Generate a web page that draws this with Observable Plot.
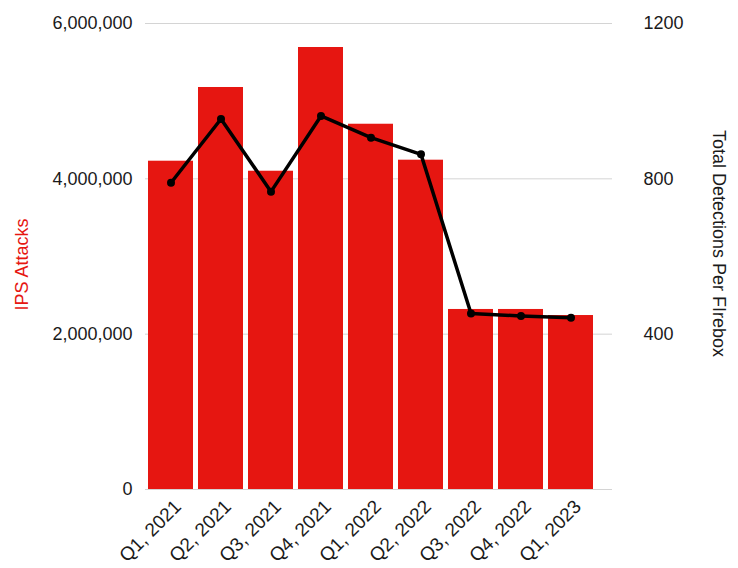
<!DOCTYPE html>
<html>
<head>
<meta charset="utf-8">
<script src="https://cdn.jsdelivr.net/npm/d3@7"></script>
<script src="https://cdn.jsdelivr.net/npm/@observablehq/plot@0.6"></script>
<style>
  html, body { margin: 0; padding: 0; background: #fff; }
  #chart svg { display: block; }
</style>
</head>
<body>
<div id="chart"></div>
<script>
const quarters = ["Q1, 2021", "Q2, 2021", "Q3, 2021", "Q4, 2021", "Q1, 2022", "Q2, 2022", "Q3, 2022", "Q4, 2022", "Q1, 2023"];
const ipsAttacks = [4227000, 5176000, 4098000, 5691000, 4703000, 4240000, 2318000, 2318000, 2240000];
const detectionsPerFirebox = [790, 954, 767, 962, 906, 863, 453, 447, 442];
const leftTicks = [0, 2000000, 4000000, 6000000];
const rightTicks = [400, 800, 1200];
const leftTitle = "IPS Attacks";
const rightTitle = "Total Detections Per FIrebox";

const ratio = 6000000 / 1200;
const red = "#e61611";
const font = "'Liberation Sans', Arial, Helvetica, sans-serif";

const rows = quarters.map((q, i) => ({q, attacks: ipsAttacks[i], det: detectionsPerFirebox[i]}));

const W = 738, H = 568, mL = 145, mR = 126;

const chart = Plot.plot({
  width: W,
  height: H,
  marginLeft: mL,
  marginRight: mR,
  marginTop: 23,
  marginBottom: 79,
  style: {fontFamily: font, fontSize: "18px", color: "#1a1a1a", background: "#fff"},
  x: {domain: quarters, range: [mL, W - mR - 16], paddingInner: 0.1, paddingOuter: 0},
  y: {domain: [0, 6000000]},
  marks: [
    Plot.gridY(leftTicks, {stroke: "#d4d4d4", strokeOpacity: 1, strokeWidth: 1}),
    Plot.barY(rows, {x: "q", y: "attacks", fill: red}),
    Plot.line(rows, {x: "q", y: d => d.det * ratio, stroke: "#000", strokeWidth: 3.5}),
    Plot.dot(rows, {x: "q", y: d => d.det * ratio, fill: "#000", r: 4}),
    Plot.axisY(leftTicks, {anchor: "left", tickSize: 0, tickPadding: 13, tickFormat: d3.format(","), label: null, fontSize: 18}),
    Plot.axisY(rightTicks.map(d => d * ratio), {anchor: "right", tickSize: 0, tickPadding: 31, tickFormat: d => String(d / ratio), label: null, fontSize: 18, textAnchor: "start"}),
    Plot.axisX({tickRotate: -45, tickSize: 0, tickPadding: 14, dx: 7, label: null, fontSize: 19}),
    Plot.text([leftTitle], {frameAnchor: "left", textAnchor: "middle", dx: -123, dy: 8, rotate: -90, fill: red, fontSize: 18, text: d => d}),
    Plot.text([rightTitle], {frameAnchor: "right", textAnchor: "middle", dx: 106, dy: -13, rotate: 90, fill: "#1a1a1a", fontSize: 18, text: d => d})
  ]
});
document.getElementById("chart").appendChild(chart);
</script>
</body>
</html>
